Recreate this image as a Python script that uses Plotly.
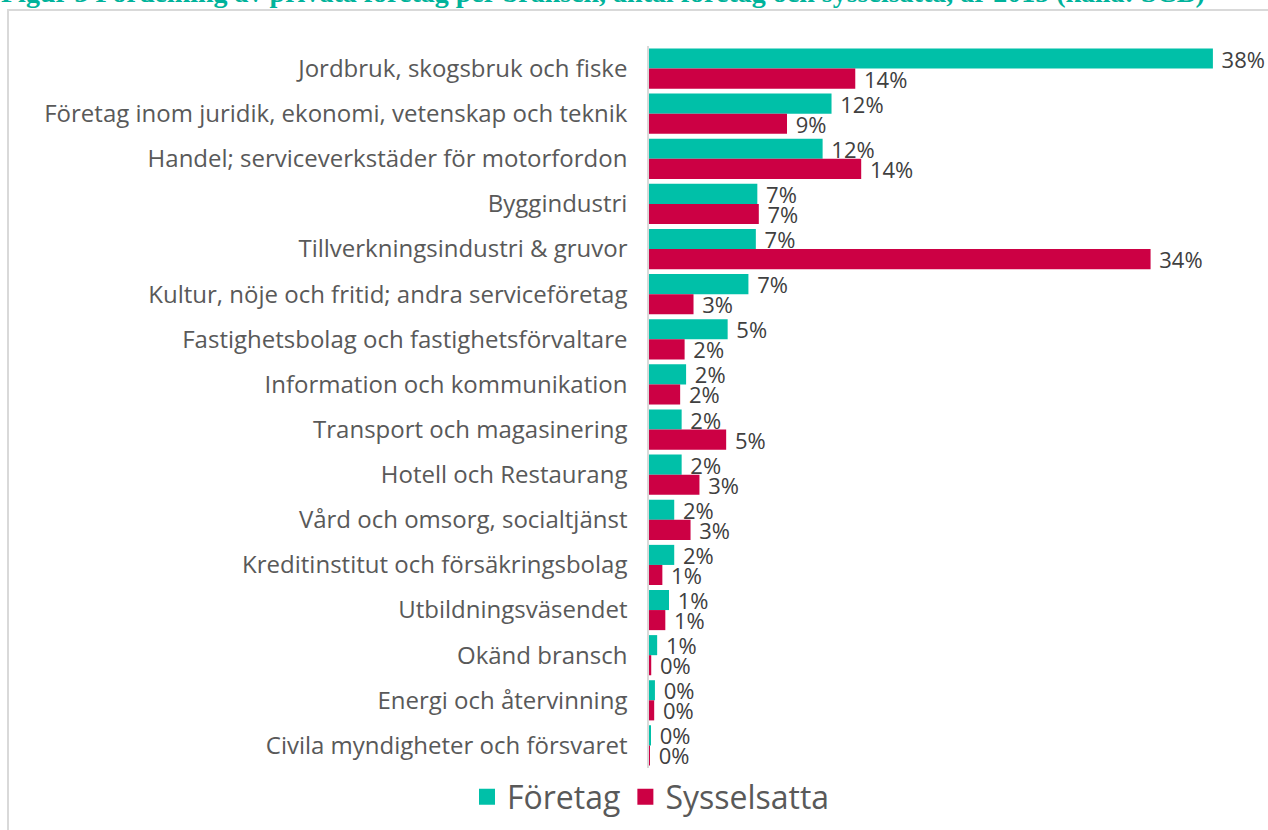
import plotly.graph_objects as go

categories = [
    "Jordbruk, skogsbruk och fiske",
    "Företag inom juridik, ekonomi, vetenskap och teknik",
    "Handel; serviceverkstäder för motorfordon",
    "Byggindustri",
    "Tillverkningsindustri & gruvor",
    "Kultur, nöje och fritid; andra serviceföretag",
    "Fastighetsbolag och fastighetsförvaltare",
    "Information och kommunikation",
    "Transport och magasinering",
    "Hotell och Restaurang",
    "Vård och omsorg, socialtjänst",
    "Kreditinstitut och försäkringsbolag",
    "Utbildningsväsendet",
    "Okänd bransch",
    "Energi och återvinning",
    "Civila myndigheter och försvaret",
]
foretag = [38.0, 12.3, 11.7, 7.3, 7.2, 6.7, 5.3, 2.5, 2.2, 2.2, 1.7, 1.7, 1.35, 0.55, 0.4, 0.07]
sysselsatta = [13.9, 9.3, 14.3, 7.4, 33.8, 3.0, 2.4, 2.1, 5.2, 3.4, 2.8, 0.9, 1.1, 0.15, 0.35, 0.03]
series_names = ["Företag", "Sysselsatta"]
colors = ["#00C0A8", "#CC0044"]
title = "Figur 3 Fördelning av privata företag per bransch, antal företag och sysselsatta, år 2015 (källa: SCB)"

W, H = 1268, 830
# target plot box in page pixels
PL, PR, PT, PB = 649, 1250, 46, 768
ml, mt = PL, PT
mr, mb = W - PR, H - PB
pw, ph = PR - PL, PB - PT

def px_x(p):
    return (p - PL) / pw

def px_y(p):
    return (PB - p) / ph

fig = go.Figure()
for name, vals, col in zip(series_names, [foretag, sysselsatta], colors):
    fig.add_trace(go.Bar(
        y=categories, x=vals, orientation="h", name=name,
        marker=dict(color=col, line=dict(width=0)),
        text=[f"\u00a0{round(v):.0f}%" for v in vals],
        textposition="outside", cliponaxis=False, constraintext="none",
        textfont=dict(family="Open Sans", size=22, color="#404040"),
        showlegend=False,
    ))
    fig.add_trace(go.Scatter(
        x=[None], y=[None], mode="markers", name=name,
        marker=dict(symbol="square", size=16, color=col),
    ))

fig.update_layout(
    width=W, height=H,
    margin=dict(l=ml, r=mr, t=mt, b=mb, autoexpand=False),
    paper_bgcolor="white", plot_bgcolor="white",
    barmode="group", bargap=0.11, bargroupgap=0,
    font=dict(family="Open Sans", color="#595959"),
    xaxis=dict(range=[0, 40.5], visible=False, fixedrange=True),
    yaxis=dict(
        autorange="reversed", showgrid=False, zeroline=False,
        showline=True, linecolor="#D9D9D9", linewidth=1.5,
        ticks="", ticklabelstandoff=15,
        tickfont=dict(family="Open Sans", size=24, color="#595959"),
    ),
    legend=dict(
        orientation="h", x=px_x(651), xanchor="center",
        y=px_y(797), yanchor="middle",
        font=dict(family="Open Sans", size=32, color="#595959"),
        itemsizing="trace", itemwidth=30,
        bgcolor="rgba(0,0,0,0)",
    ),
    shapes=[dict(
        type="rect", xref="paper", yref="paper",
        x0=px_x(8), x1=px_x(1290), y0=px_y(850), y1=px_y(10),
        line=dict(color="#D9D9D9", width=2), fillcolor="rgba(0,0,0,0)",
        layer="below",
    )],
    annotations=[dict(
        text=f"<b>{title}</b>", xref="paper", yref="paper",
        x=px_x(-1), xanchor="left", y=px_y(-7), yanchor="middle",
        showarrow=False,
        font=dict(family="Liberation Serif", size=28, color="#00B39B"),
    )],
)

fig.write_html(
    "out.html",
    config={"displayModeBar": False},
    post_script="document.body.style.margin='0px';document.body.style.overflow='hidden';",
)
